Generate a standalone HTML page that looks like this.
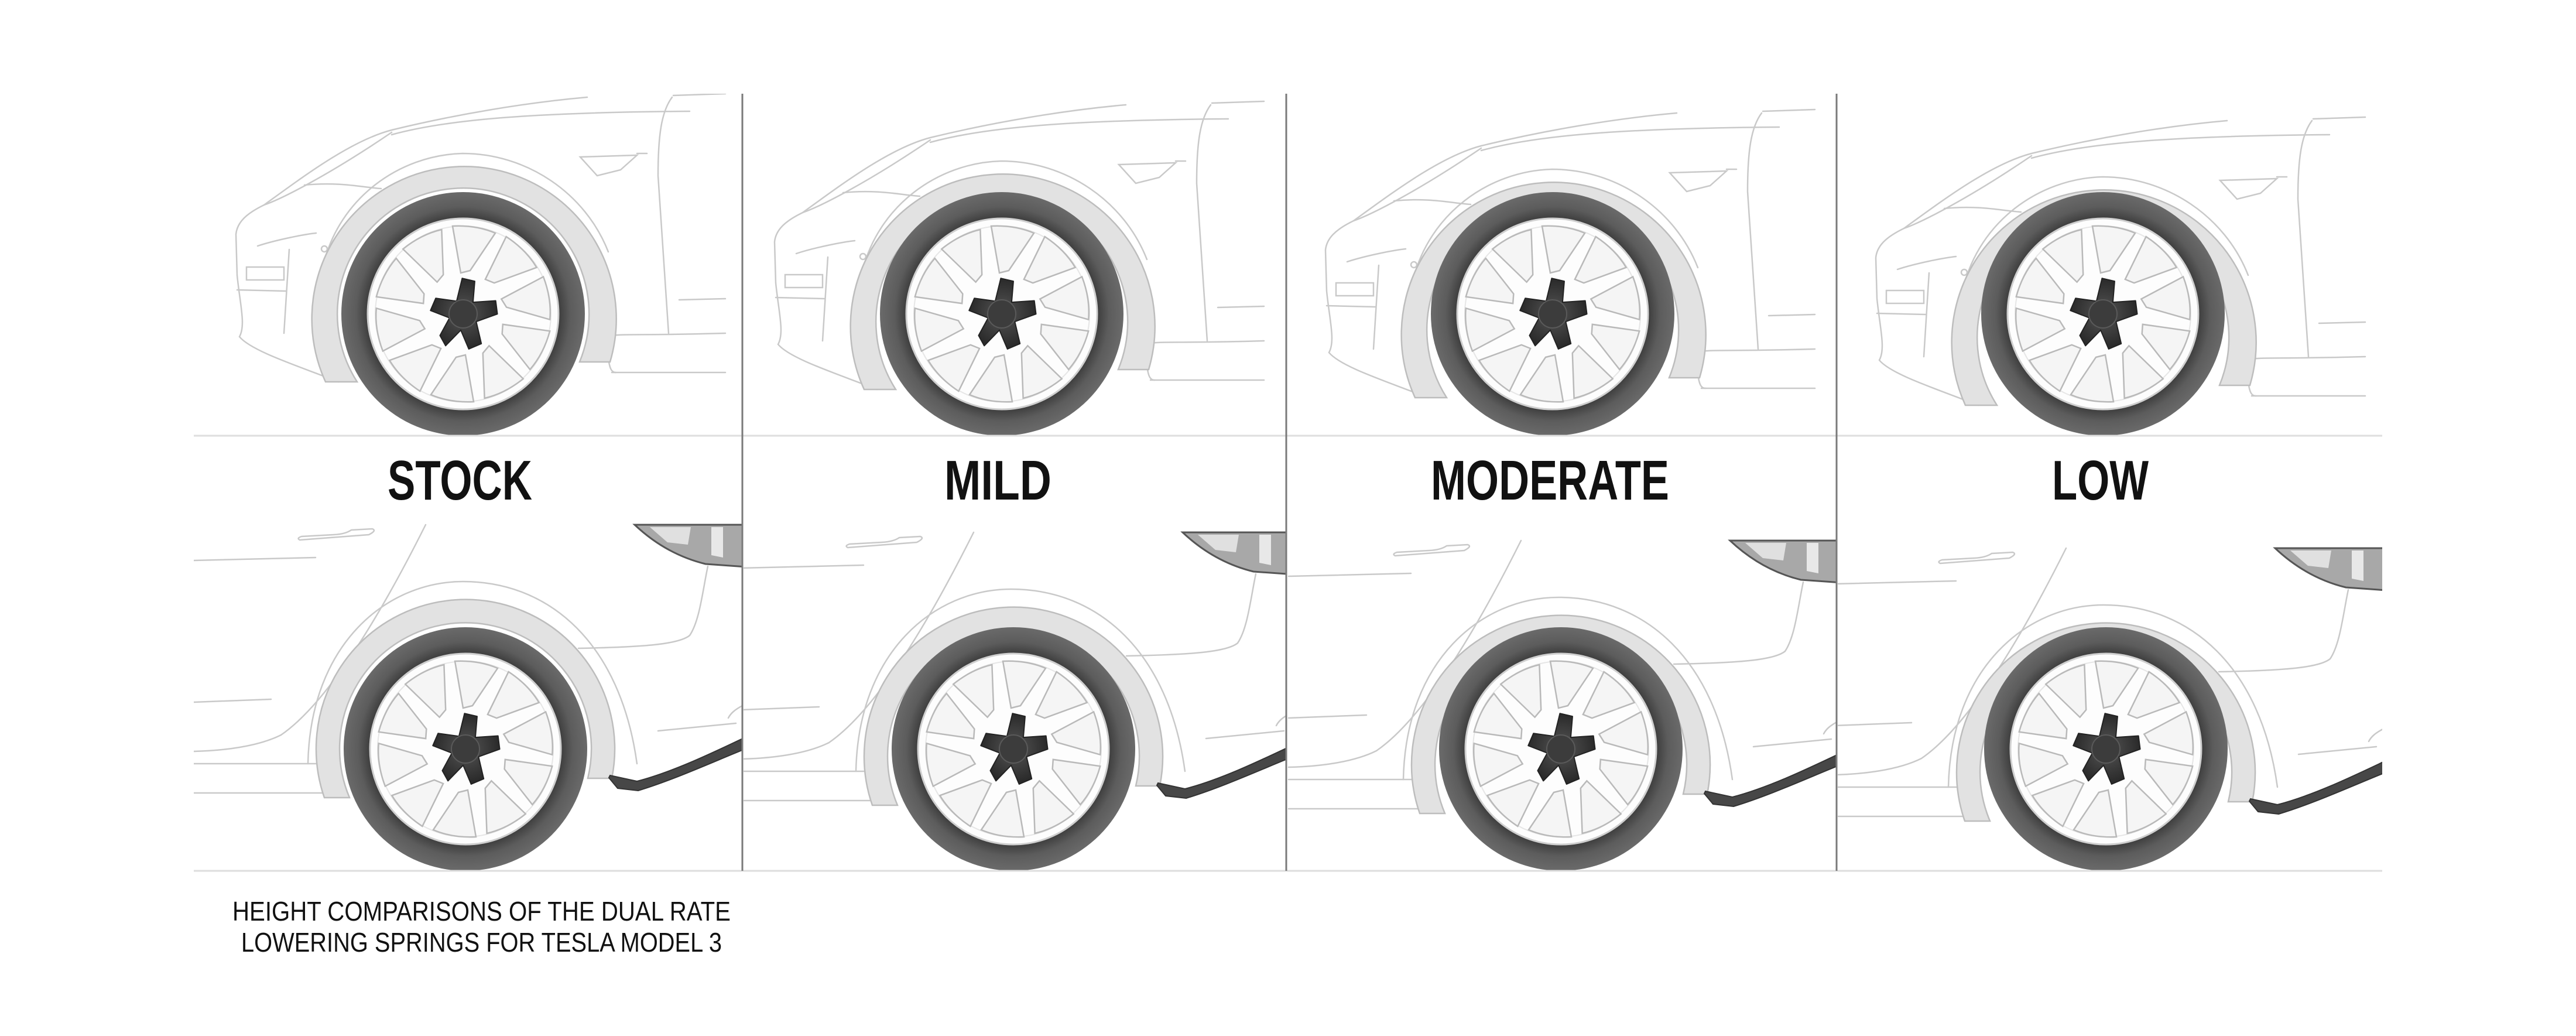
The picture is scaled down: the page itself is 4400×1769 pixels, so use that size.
<!DOCTYPE html>
<html><head><meta charset="utf-8"><style>
html,body{margin:0;padding:0;background:#fff;}
svg{display:block;}
</style></head><body>
<svg width="4400" height="1769" viewBox="0 0 4400 1769" xmlns="http://www.w3.org/2000/svg">
<defs>
  <radialGradient id="tire" cx="0.5" cy="0.5" r="0.5">
    <stop offset="0.78" stop-color="#3c3c3c"/>
    <stop offset="0.88" stop-color="#5c5c5c"/>
    <stop offset="1" stop-color="#6a6a6a"/>
  </radialGradient>
  <radialGradient id="hub" cx="0.5" cy="0.5" r="0.5">
    <stop offset="0" stop-color="#555"/>
    <stop offset="1" stop-color="#2a2a2a"/>
  </radialGradient>
  <g id="wheel">
    <circle r="208" fill="url(#tire)"/>
    <circle r="163" fill="#fdfdfd" stroke="#cfcfcf" stroke-width="3"/>
    <circle r="150" fill="none" stroke="#e6e6e6" stroke-width="2"/>
    <g fill="#f5f5f5" stroke="#b9b9b9" stroke-width="2.5">
      <path id="win" d="M-4,-70 L12,-74 L55,-138 Q22,-152 -18,-150 Z"/>
      <use href="#win" transform="rotate(36)"/>
      <use href="#win" transform="rotate(72)"/>
      <use href="#win" transform="rotate(108)"/>
      <use href="#win" transform="rotate(144)"/>
      <use href="#win" transform="rotate(180)"/>
      <use href="#win" transform="rotate(216)"/>
      <use href="#win" transform="rotate(252)"/>
      <use href="#win" transform="rotate(288)"/>
      <use href="#win" transform="rotate(324)"/>
    </g>
    <path d="M-10,-60 L12,-58 L14,-22 L52,-30 L58,-8 L24,10 L38,46 L18,58 L0,28 L-22,58 L-34,42 L-22,10 L-56,2 L-50,-20 L-14,-20 Z" fill="url(#hub)" stroke="#222" stroke-width="2" stroke-linejoin="round" transform="rotate(8)"/>
    <circle r="24" fill="#3c3c3c" stroke="#5a5a5a" stroke-width="2"/>
  </g>

  <g id="frontbody" fill="none" stroke="#c9c9c9" stroke-width="2.5" stroke-linecap="round">
    <path d="M451,350 C520,300 600,240 669,222 C780,195 900,175 1003,166"/>
    <path d="M669,230 C760,205 900,192 1178,190"/>
    <path d="M451,350 C480,340 560,300 669,226"/>
    <path d="M451,350 C420,365 405,380 403,400 L405,470 C410,520 420,555 409,575 C430,600 510,625 578,652"/>
    <path d="M520,316 C580,310 620,320 651,322"/>
    <path d="M440,420 C470,410 520,400 540,398"/>
    <path d="M553,450 C580,340 680,265 790,262 C900,262 1000,330 1039,430"/>
    <path d="M1148,166 C1130,190 1124,230 1124,300 L1142,569"/>
    <path d="M1150,163 L1239,160"/>
    <path d="M1045,636 L1239,636"/>
    <path d="M1045,573 C1060,570 1100,573 1239,569"/>
    <path d="M1040,618 C1042,630 1045,636 1052,636"/>
    <path d="M991,268 L1088,265 L1060,290 L1020,300 Z"/>
    <path d="M1088,262 L1105,262"/>
    <rect x="421" y="456" width="64" height="22"/>
    <path d="M494,426 L485,569"/>
    <path d="M405,495 L488,497"/>
    <circle cx="554" cy="425" r="5"/>
    <path d="M1160,512 L1239,510"/>
  </g>
  <path id="frontarch" d="M556,652 A260,260 0 1 1 1042,618 L990,618 A215,215 0 1 0 610,652 Z" fill="#e2e2e2" stroke="#bdbdbd" stroke-width="2.5"/>

  <g id="rearbody" fill="none" stroke="#c9c9c9" stroke-width="2.5" stroke-linecap="round">
    <path d="M512,922 L630,913 Q644,906 636,903 L600,905 Q590,912 570,913 L515,916 Q506,919 512,922 Z"/>
    <path d="M330,957 L539,952"/>
    <path d="M727,896 C650,1050 560,1200 480,1255 C440,1275 380,1282 330,1283"/>
    <path d="M330,1199 L463,1194"/>
    <path d="M330,1304 L548,1304"/>
    <path d="M330,1354 L560,1354"/>
    <path d="M526,1304 C530,1100 660,993 791,993 C940,993 1060,1100 1088,1304"/>
    <path d="M1209,967 C1200,1010 1195,1060 1178,1085 C1160,1100 1100,1105 988,1107"/>
    <path d="M1124,1248 L1257,1235"/>
    <path d="M1268,1205 C1255,1212 1248,1218 1244,1226"/>
  </g>
  <path id="reararch" d="M554,1362 A255,255 0 1 1 1045,1329 L1004,1329 A215,215 0 1 0 597,1362 Z" fill="#e2e2e2" stroke="#bdbdbd" stroke-width="2.5"/>
  <g id="reardark">
    <path d="M1040,1328 L1055,1346 L1090,1350 C1150,1332 1220,1300 1275,1278 L1275,1258 C1220,1284 1150,1318 1088,1334 L1042,1324 Z" fill="#474747" stroke="#333" stroke-width="2"/>
    <path d="M1084,896 L1275,896 L1275,968 L1205,963 C1160,952 1120,930 1084,896 Z" fill="#a8a8a8" stroke="#555" stroke-width="3"/>
    <path d="M1110,900 L1180,900 L1175,930 L1140,926 Z" fill="#e0e0e0"/>
    <path d="M1215,900 L1235,900 L1235,952 L1215,948 Z" fill="#e8e8e8"/>
  </g>

  <clipPath id="ct1"><rect x="331" y="160" width="937" height="584"/></clipPath>
  <clipPath id="ct2"><rect x="1270" y="160" width="926" height="584"/></clipPath>
  <clipPath id="ct3"><rect x="2199" y="160" width="937" height="584"/></clipPath>
  <clipPath id="ct4"><rect x="3139" y="160" width="930" height="584"/></clipPath>
  <clipPath id="cb1"><rect x="331" y="880" width="937" height="607"/></clipPath>
  <clipPath id="cb2"><rect x="1270" y="880" width="926" height="607"/></clipPath>
  <clipPath id="cb3"><rect x="2199" y="880" width="937" height="607"/></clipPath>
  <clipPath id="cb4"><rect x="3139" y="880" width="930" height="607"/></clipPath>
</defs>

<rect width="4400" height="1769" fill="#fff"/>

<g clip-path="url(#ct1)">
  <use href="#frontbody"/><use href="#frontarch"/>
  <use href="#wheel" x="791" y="536"/>
</g>
<g clip-path="url(#ct2)">
  <g transform="translate(920,13)"><use href="#frontbody"/><use href="#frontarch"/></g>
  <use href="#wheel" x="1711" y="536"/>
</g>
<g clip-path="url(#ct3)">
  <g transform="translate(1861,27)"><use href="#frontbody"/><use href="#frontarch"/></g>
  <use href="#wheel" x="2652" y="536"/>
</g>
<g clip-path="url(#ct4)">
  <g transform="translate(2801,40)"><use href="#frontbody"/><use href="#frontarch"/></g>
  <use href="#wheel" x="3592" y="536"/>
</g>

<g clip-path="url(#cb1)">
  <use href="#rearbody"/><use href="#reararch"/><use href="#reardark"/>
  <use href="#wheel" x="795" y="1279"/>
</g>
<g clip-path="url(#cb2)">
  <g transform="translate(936,13)"><use href="#rearbody"/><use href="#reararch"/><use href="#reardark"/></g>
  <use href="#wheel" x="1731" y="1279"/>
</g>
<g clip-path="url(#cb3)">
  <g transform="translate(1871,27)"><use href="#rearbody"/><use href="#reararch"/><use href="#reardark"/></g>
  <use href="#wheel" x="2666" y="1279"/>
</g>
<g clip-path="url(#cb4)">
  <g transform="translate(2802,40)"><use href="#rearbody"/><use href="#reararch"/><use href="#reardark"/></g>
  <use href="#wheel" x="3597" y="1279"/>
</g>

<line x1="331" y1="744" x2="4069" y2="744" stroke="#dedede" stroke-width="3"/>
<line x1="331" y1="1487" x2="4069" y2="1487" stroke="#dedede" stroke-width="3"/>
<line x1="1268" y1="160" x2="1268" y2="1487" stroke="#7a7a7a" stroke-width="3"/>
<line x1="2197" y1="160" x2="2197" y2="1487" stroke="#7a7a7a" stroke-width="3"/>
<line x1="3137" y1="160" x2="3137" y2="1487" stroke="#7a7a7a" stroke-width="3"/>

<g font-family="Liberation Sans, sans-serif" font-weight="bold" font-size="96" fill="#111">
  <text x="662" y="853" textLength="247" lengthAdjust="spacingAndGlyphs">STOCK</text>
  <text x="1613" y="853" textLength="183" lengthAdjust="spacingAndGlyphs">MILD</text>
  <text x="2444" y="853" textLength="407" lengthAdjust="spacingAndGlyphs">MODERATE</text>
  <text x="3505" y="853" textLength="165" lengthAdjust="spacingAndGlyphs">LOW</text>
</g>
<g font-family="Liberation Sans, sans-serif" font-size="46" fill="#111">
  <text x="397" y="1572" textLength="851" lengthAdjust="spacingAndGlyphs">HEIGHT COMPARISONS OF THE DUAL RATE</text>
  <text x="412" y="1625" textLength="821" lengthAdjust="spacingAndGlyphs">LOWERING SPRINGS FOR TESLA MODEL 3</text>
</g>
</svg>
</body></html>
